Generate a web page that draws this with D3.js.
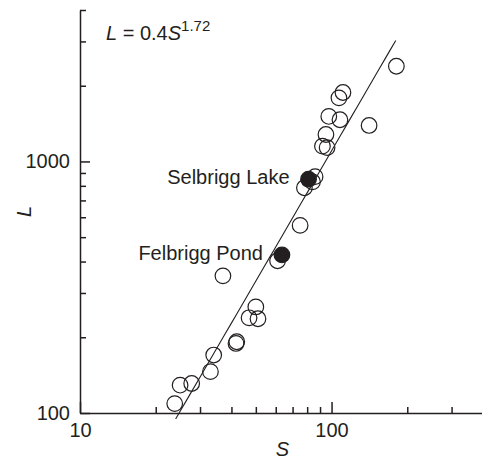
<!DOCTYPE html>
<html>
<head>
<meta charset="utf-8">
<script src="https://cdn.jsdelivr.net/npm/d3@7"></script>
<style>
  body { margin: 0; background: #fff; }
  svg { display: block; font-family: "Liberation Sans", Arial, Helvetica, sans-serif; }
  .axis path, .axis line { stroke: #231f20; }
  .axis text { fill: #231f20; font-size: 20px; font-family: "Liberation Sans", Arial, sans-serif; }
</style>
</head>
<body>
<div id="chart"></div>
<script>
// lake area S vs shoreline L
let openS = [181, 111, 107, 97.5, 108, 141, 95, 92, 96, 86, 84, 78, 75, 61, 37, 50, 47, 51, 42, 41.7, 34, 33, 27.8, 25, 23.8];
let openL = [2390, 1880, 1790, 1510, 1465, 1390, 1280, 1150, 1135, 870, 830, 786, 557, 403, 351, 264, 239, 237, 192, 189, 170, 146, 131, 129, 109];

let namedLakes = ["Selbrigg Lake", "Felbrigg Pond"];
let namedS = [81, 63.5];
let namedL = [850, 425];

// fitted power law L = a * S^b
let fitA = 0.4;
let fitB = 1.72;
let fitRange = [24, 180];

let xMinorTicks = [20, 30, 40, 50, 60, 70, 80, 90, 200, 300];
let xLabelTicks = [10, 100];
let yMinorTicks = [200, 300, 400, 500, 600, 700, 800, 900, 2000, 3000, 4000];
let yLabelTicks = [100, 1000];

let width = 482;
let height = 461;
let plotLeft = 80, plotRight = 483, plotTop = 10, plotBottom = 413;
let ink = "#231f20";

let svg = d3.select("#chart")
            .append("svg")
            .attr("width", width)
            .attr("height", height);

let xScale = d3.scaleLog().domain([10, 400]).range([plotLeft, plotRight]);
let yScale = d3.scaleLog().domain([100, 4000]).range([plotBottom, plotTop]);

function drawAxes() {
  // minor ticks, pointing inward
  svg.append("g")
     .attr("class", "axis")
     .attr("transform", `translate(0, ${plotBottom})`)
     .call(d3.axisBottom(xScale).tickValues(xMinorTicks).tickSize(-6).tickSizeOuter(0).tickFormat(""))
     .selectAll("path, line").attr("stroke-width", 1.5);

  svg.append("g")
     .attr("class", "axis")
     .attr("transform", `translate(0, ${plotBottom})`)
     .call(d3.axisBottom(xScale).tickValues(xLabelTicks).tickSize(-11).tickSizeOuter(0).tickPadding(10).tickFormat(d3.format("d")))
     .call(g => g.select(".domain").remove())
     .selectAll("line").attr("stroke-width", 1.5);

  svg.append("g")
     .attr("class", "axis")
     .attr("transform", `translate(${plotLeft}, 0)`)
     .call(d3.axisLeft(yScale).tickValues(yMinorTicks).tickSize(-6).tickSizeOuter(0).tickFormat(""))
     .selectAll("path, line").attr("stroke-width", 1.5);

  svg.append("g")
     .attr("class", "axis")
     .attr("transform", `translate(${plotLeft}, 0)`)
     .call(d3.axisLeft(yScale).tickValues(yLabelTicks).tickSize(-10).tickSizeOuter(0).tickPadding(10).tickFormat(d3.format("d")))
     .call(g => g.select(".domain").remove())
     .selectAll("line").attr("stroke-width", 1.5);

  // axis titles
  svg.append("text")
     .attr("x", (plotLeft + plotRight) / 2 + 1)
     .attr("y", 456)
     .attr("text-anchor", "middle")
     .attr("font-size", 20)
     .attr("font-style", "italic")
     .attr("fill", ink)
     .text("S");

  svg.append("text")
     .attr("transform", `translate(31, ${(plotTop + plotBottom) / 2}) rotate(-90)`)
     .attr("text-anchor", "middle")
     .attr("font-size", 20)
     .attr("font-style", "italic")
     .attr("fill", ink)
     .text("L");
}

function drawFit() {
  let pts = d3.range(0, 41).map(i => {
    let s = Math.exp(Math.log(fitRange[0]) + i / 40 * (Math.log(fitRange[1]) - Math.log(fitRange[0])));
    return [s, fitA * Math.pow(s, fitB)];
  });
  let line = d3.line().x(d => xScale(d[0])).y(d => yScale(d[1]));
  svg.append("path")
     .attr("d", line(pts))
     .attr("fill", "none")
     .attr("stroke", ink)
     .attr("stroke-width", 1.1);

  let eq = svg.append("text")
     .attr("x", 106)
     .attr("y", 40)
     .attr("font-size", 20)
     .attr("fill", ink);
  eq.append("tspan").attr("font-style", "italic").text("L");
  eq.append("tspan").text(" = 0.4");
  eq.append("tspan").attr("font-style", "italic").text("S");
  eq.append("tspan").attr("font-size", 15).attr("dy", -9).text("1.72");
}

function drawDots() {
  svg.selectAll("circle.open")
     .data(openS)
     .enter()
     .append("circle")
     .attr("class", "open")
     .attr("cx", (d, i) => xScale(d))
     .attr("cy", (d, i) => yScale(openL[i]))
     .attr("r", 7.8)
     .attr("fill", "none")
     .attr("stroke", ink)
     .attr("stroke-width", 1.2);

  svg.selectAll("circle.named")
     .data(namedS)
     .enter()
     .append("circle")
     .attr("class", "named")
     .attr("cx", (d, i) => xScale(d))
     .attr("cy", (d, i) => yScale(namedL[i]))
     .attr("r", 7.8)
     .attr("fill", ink)
     .attr("stroke", ink)
     .attr("stroke-width", 1.2);

  svg.selectAll("text.lake")
     .data(namedLakes)
     .enter()
     .append("text")
     .attr("class", "lake")
     .attr("x", (d, i) => xScale(namedS[i]) - 19)
     .attr("y", (d, i) => yScale(namedL[i]) + 5)
     .attr("text-anchor", "end")
     .attr("font-size", 20)
     .attr("fill", ink)
     .text(d => d);
}

drawAxes();
drawFit();
drawDots();
</script>
</body>
</html>
